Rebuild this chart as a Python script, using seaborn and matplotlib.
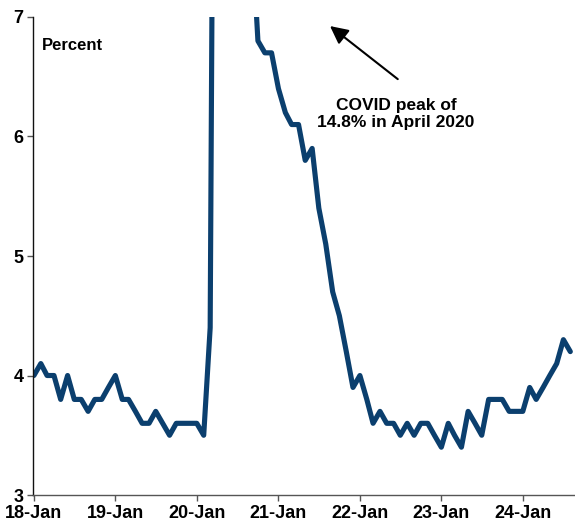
import matplotlib
matplotlib.use("Agg")
import matplotlib.pyplot as plt
import matplotlib.dates as mdates
import pandas as pd
import seaborn as sns

# US civilian unemployment rate, monthly, Jan 2018 - Aug 2024 (percent)
rate_2018 = [4.0, 4.1, 4.0, 4.0, 3.8, 4.0, 3.8, 3.8, 3.7, 3.8, 3.8, 3.9]
rate_2019 = [4.0, 3.8, 3.8, 3.7, 3.6, 3.6, 3.7, 3.6, 3.5, 3.6, 3.6, 3.6]
rate_2020 = [3.6, 3.5, 4.4, 14.8, 13.2, 11.0, 10.2, 8.4, 7.8, 6.8, 6.7, 6.7]
rate_2021 = [6.4, 6.2, 6.1, 6.1, 5.8, 5.9, 5.4, 5.1, 4.7, 4.5, 4.2, 3.9]
rate_2022 = [4.0, 3.8, 3.6, 3.7, 3.6, 3.6, 3.5, 3.6, 3.5, 3.6, 3.6, 3.5]
rate_2023 = [3.4, 3.6, 3.5, 3.4, 3.7, 3.6, 3.5, 3.8, 3.8, 3.8, 3.7, 3.7]
rate_2024 = [3.7, 3.9, 3.8, 3.9, 4.0, 4.1, 4.3, 4.2]

y_ticks = [3, 4, 5, 6, 7]
x_tick_years = [2018, 2019, 2020, 2021, 2022, 2023, 2024]
annotation = "COVID peak of\n14.8% in April 2020"

rates = rate_2018 + rate_2019 + rate_2020 + rate_2021 + rate_2022 + rate_2023 + rate_2024
df = pd.DataFrame({
    "month": pd.date_range("2018-01-01", periods=len(rates), freq="MS"),
    "rate": rates,
})

sns.set_theme(style="white")
plt.rcParams["font.family"] = ["Liberation Sans", "DejaVu Sans"]
plt.rcParams["text.color"] = "black"

fig = plt.figure(figsize=(5.75, 5.24), dpi=100)
ax = fig.add_axes([0.0574, 0.0553, 0.9426, 0.9123])

line_color = "#0B3F6E"
sns.lineplot(data=df, x="month", y="rate", ax=ax, color=line_color,
             linewidth=3.7, solid_joinstyle="round", solid_capstyle="round")

ax.set_ylim(3, 7)
ax.set_yticks(y_ticks)
ax.set_xlim(pd.Timestamp("2017-12-28"), pd.Timestamp("2024-08-22"))
ax.set_xticks([pd.Timestamp(f"{y}-01-01") for y in x_tick_years])
ax.xaxis.set_major_formatter(mdates.DateFormatter("%y-%b"))

ax.set_xlabel("")
ax.set_ylabel("")

for s in ["top", "right"]:
    ax.spines[s].set_visible(False)
ax.spines["left"].set_color("#111111")
ax.spines["left"].set_linewidth(1.0)
ax.spines["bottom"].set_color("#555555")
ax.spines["bottom"].set_linewidth(1.0)

ax.tick_params(axis="both", which="major", bottom=True, left=True,
               direction="out", length=4, width=1, color="#555555",
               labelsize=13, labelcolor="black", pad=3)
for lab in ax.get_xticklabels() + ax.get_yticklabels():
    lab.set_fontweight("bold")

ax.text(0.017, 0.957, "Percent", transform=ax.transAxes, fontsize=12,
        fontweight="bold", ha="left", va="top", color="black")

# arrow pointing up toward the off-scale pandemic peak
ax.annotate("", xy=(0.548, 0.981), xycoords="axes fraction",
            xytext=(0.673, 0.870), textcoords="axes fraction",
            arrowprops=dict(arrowstyle="-|>,head_length=0.9,head_width=0.45",
                            color="black", lw=1.5, shrinkA=0, shrinkB=0))
ax.text(0.67, 0.83, annotation, transform=ax.transAxes, ha="center",
        va="top", fontsize=12.5, fontweight="bold", linespacing=1.15,
        color="black")

fig.savefig("out.png", dpi=100)
